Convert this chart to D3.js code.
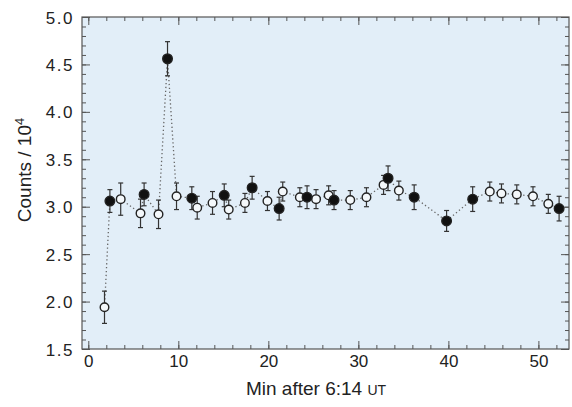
<!DOCTYPE html>
<html lang="en">
<head>
<meta charset="UTF-8">
<title>Counts</title>
<style>
  body { margin: 0; background: #fff; }
  text { font-family: "Liberation Sans", Arial, sans-serif; fill: #222; }
</style>
</head>
<body>
<script src="https://d3js.org/d3.v7.min.js"></script>
<script>
// minutes after 6:14 UT, counts / 10^4, error, filled (1) or open (0)
const minutes = [1.8, 2.4, 3.6, 5.8, 6.2, 7.8, 8.8, 9.8, 11.5, 12.1, 13.8, 15.1, 15.6, 17.4, 18.2,
                 19.9, 21.2, 21.6, 23.5, 24.3, 25.3, 26.7, 27.3, 29.1, 30.9, 32.8, 33.3, 34.5,
                 36.2, 39.8, 42.7, 44.6, 45.9, 47.6, 49.4, 51.1, 52.3];
const counts = [1.94, 3.06, 3.08, 2.93, 3.13, 2.92, 4.56, 3.11, 3.09, 2.99, 3.04, 3.12, 2.97, 3.04, 3.20,
                3.06, 2.98, 3.16, 3.10, 3.10, 3.08, 3.12, 3.07, 3.07, 3.10, 3.23, 3.30, 3.17,
                3.10, 2.85, 3.08, 3.16, 3.14, 3.13, 3.11, 3.03, 2.98];
const errors = [0.17, 0.12, 0.17, 0.15, 0.12, 0.15, 0.18, 0.14, 0.12, 0.12, 0.12, 0.12, 0.10, 0.10, 0.12,
                0.10, 0.12, 0.10, 0.10, 0.12, 0.10, 0.10, 0.10, 0.10, 0.10, 0.10, 0.13, 0.10,
                0.13, 0.11, 0.13, 0.10, 0.10, 0.10, 0.10, 0.10, 0.13];
const filled = [0, 1, 0, 0, 1, 0, 1, 0, 1, 0, 0, 1, 0, 0, 1,
                0, 1, 0, 0, 1, 0, 0, 1, 0, 0, 0, 1, 0,
                1, 1, 1, 0, 0, 0, 0, 0, 1];
const xTicks = [0, 10, 20, 30, 40, 50];
const yTicks = [1.5, 2.0, 2.5, 3.0, 3.5, 4.0, 4.5, 5.0];

const data = minutes.map((m, i) => ({ x: m, y: counts[i], e: errors[i], f: filled[i] }));

const width = 572, height = 407;
const margin = { left: 82, right: 3, top: 17, bottom: 58 };

const svg = d3.select("body").append("svg")
    .attr("width", width)
    .attr("height", height);

const x = d3.scaleLinear().domain([-0.7, 53.4]).range([margin.left, width - margin.right]);
const y = d3.scaleLinear().domain([1.5, 5.0]).range([height - margin.bottom, margin.top]);

svg.append("rect")
    .attr("x", margin.left).attr("y", margin.top)
    .attr("width", width - margin.left - margin.right)
    .attr("height", height - margin.top - margin.bottom)
    .attr("fill", "#e2eef8")
    .attr("stroke", "#555")
    .attr("stroke-width", 1.2);

const xMinor = d3.range(0, 54, 2);
const yMinor = d3.range(15, 51).map(d => d / 10);

function tickAxis(axis, g) {
  g.call(axis);
  g.select(".domain").remove();
  g.selectAll("line").attr("stroke", "#555");
}

// inward ticks on all four sides
tickAxis(d3.axisBottom(x).tickValues(xMinor).tickSize(-4).tickFormat(""),
  svg.append("g").attr("transform", `translate(0,${height - margin.bottom})`));
tickAxis(d3.axisBottom(x).tickValues(xTicks).tickSize(-8).tickPadding(6).tickFormat(d3.format("d")),
  svg.append("g").attr("transform", `translate(0,${height - margin.bottom})`).attr("class", "xlab"));
tickAxis(d3.axisTop(x).tickValues(xMinor).tickSize(-4).tickFormat(""),
  svg.append("g").attr("transform", `translate(0,${margin.top})`));
tickAxis(d3.axisTop(x).tickValues(xTicks).tickSize(-8).tickFormat(""),
  svg.append("g").attr("transform", `translate(0,${margin.top})`));

tickAxis(d3.axisLeft(y).tickValues(yMinor).tickSize(-4).tickFormat(""),
  svg.append("g").attr("transform", `translate(${margin.left},0)`));
tickAxis(d3.axisLeft(y).tickValues(yTicks).tickSize(-8).tickPadding(8).tickFormat(d3.format(".1f")),
  svg.append("g").attr("transform", `translate(${margin.left},0)`).attr("class", "ylab"));
tickAxis(d3.axisRight(y).tickValues(yMinor).tickSize(-4).tickFormat(""),
  svg.append("g").attr("transform", `translate(${width - margin.right},0)`));
tickAxis(d3.axisRight(y).tickValues(yTicks).tickSize(-8).tickFormat(""),
  svg.append("g").attr("transform", `translate(${width - margin.right},0)`));

svg.selectAll(".xlab text, .ylab text")
    .attr("font-size", 17)
    .attr("font-family", "Liberation Sans, Arial, sans-serif")
    .attr("fill", "#222");
svg.selectAll(".ylab text").attr("dy", "0.36em").attr("letter-spacing", 1.5);

// dotted connecting line
svg.append("path")
    .datum(data)
    .attr("fill", "none")
    .attr("stroke", "#666")
    .attr("stroke-width", 1.3)
    .attr("stroke-dasharray", "1.3,2.6")
    .attr("d", d3.line().x(d => x(d.x)).y(d => y(d.y)));

// error bars
const eb = svg.append("g").attr("stroke", "#333").attr("stroke-width", 1.2);
eb.selectAll("line.v").data(data).join("line")
    .attr("x1", d => x(d.x)).attr("x2", d => x(d.x))
    .attr("y1", d => y(d.y - d.e)).attr("y2", d => y(d.y + d.e));
eb.selectAll("line.t").data(data.flatMap(d => [d.y - d.e, d.y + d.e].map(v => ({ x: d.x, v }))))
  .join("line")
    .attr("x1", d => x(d.x) - 2.5).attr("x2", d => x(d.x) + 2.5)
    .attr("y1", d => y(d.v)).attr("y2", d => y(d.v));

// markers: open first, filled on top
svg.append("g").selectAll("circle")
  .data(data.slice().sort((a, b) => a.f - b.f))
  .join("circle")
    .attr("cx", d => x(d.x))
    .attr("cy", d => y(d.y))
    .attr("r", d => d.f ? 4.8 : 4.3)
    .attr("fill", d => d.f ? "#111" : "#f4f8fb")
    .attr("stroke", "#222")
    .attr("stroke-width", 1.4);

// axis titles
svg.append("text")
    .attr("x", 316)
    .attr("y", 395)
    .attr("text-anchor", "middle")
    .attr("font-size", 19)
    .html('Min after 6:14 <tspan font-size="14">UT</tspan>');

svg.append("text")
    .attr("transform", "translate(31,170) rotate(-90)")
    .attr("text-anchor", "middle")
    .attr("font-size", 19)
    .html('Counts / 10<tspan dy="-7" font-size="13">4</tspan>');
</script>
</body>
</html>
